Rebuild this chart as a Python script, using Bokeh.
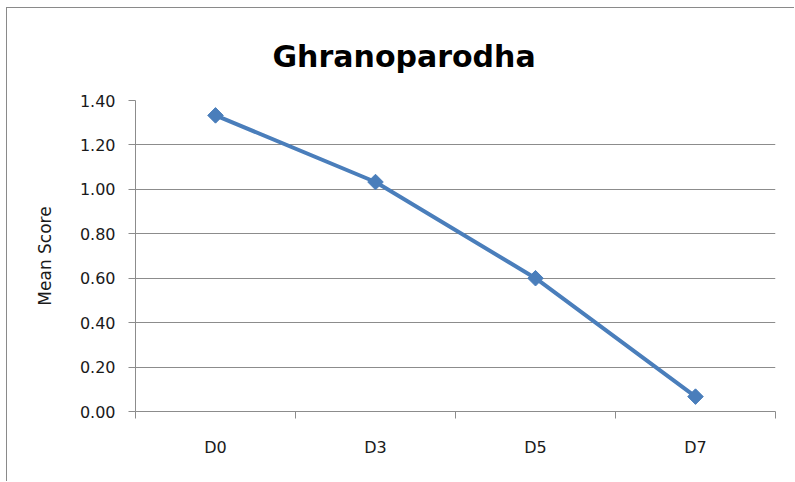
import math
from bokeh.plotting import figure
from bokeh.models import FixedTicker, NumeralTickFormatter, Range1d, Title
from bokeh.embed import file_html
from bokeh.resources import INLINE

categories = ["D0", "D3", "D5", "D7"]
mean_score = [1.333, 1.033, 0.600, 0.067]
y_ticks = [0.0, 0.2, 0.4, 0.6, 0.8, 1.0, 1.2, 1.4]
chart_title = "Ghranoparodha"

x_pos = [i + 0.5 for i in range(len(categories))]
boundaries = list(range(len(categories) + 1))

GRID = "#8c8c8c"
BLUE = "#4a7ebb"
FONT = "DejaVu Sans"

p = figure(width=788, height=474, output_backend="svg", toolbar_location=None,
           x_range=Range1d(0, len(categories)), y_range=Range1d(0, 1.4),
           min_border_left=128, min_border_right=20, min_border_top=92,
           min_border_bottom=71, title=None)
p.styles = {"margin-left": "6px", "margin-top": "7px",
            "border-left": "1px solid #8a8a8a", "border-top": "1px solid #8a8a8a"}
p.outline_line_color = None
p.background_fill_color = "white"
p.border_fill_color = "white"

t = Title(text=chart_title, align="left", offset=137,
          text_font=FONT, text_font_size="30px", text_font_style="bold",
          text_color="#000000", standoff=54)
p.add_layout(t, "above")

p.line(x_pos, mean_score, line_color=BLUE, line_width=4)
p.scatter(x_pos, mean_score, marker="square", angle=math.pi / 4, size=11,
          fill_color=BLUE, line_color=BLUE)

# x axis
p.xaxis.ticker = FixedTicker(ticks=x_pos, minor_ticks=boundaries)
p.xaxis.major_label_overrides = {x: c for x, c in zip(x_pos, categories)}
p.xaxis.major_tick_line_color = None
p.xaxis.major_tick_out = 0
p.xaxis.major_tick_in = 0
p.xaxis.minor_tick_line_color = GRID
p.xaxis.minor_tick_out = 7
p.xaxis.minor_tick_in = 0
p.xaxis.axis_line_color = GRID
p.xaxis.major_label_standoff = 19
p.xaxis.major_label_text_font = FONT
p.xaxis.major_label_text_font_size = "16px"
p.xaxis.major_label_text_color = "#1a1a1a"
p.xgrid.grid_line_color = None

# y axis
p.yaxis.ticker = FixedTicker(ticks=y_ticks)
p.yaxis.formatter = NumeralTickFormatter(format="0.00")
p.yaxis.minor_tick_line_color = None
p.yaxis.major_tick_line_color = GRID
p.yaxis.major_tick_out = 7
p.yaxis.major_tick_in = 0
p.yaxis.axis_line_color = GRID
p.yaxis.major_label_standoff = 13
p.yaxis.major_label_text_font = FONT
p.yaxis.major_label_text_font_size = "16px"
p.yaxis.major_label_text_color = "#1a1a1a"
p.yaxis.axis_label = "Mean Score"
p.yaxis.axis_label_text_font = FONT
p.yaxis.axis_label_text_font_size = "17px"
p.yaxis.axis_label_text_font_style = "normal"
p.yaxis.axis_label_text_color = "#1a1a1a"
p.yaxis.axis_label_standoff = 22
p.ygrid.grid_line_color = GRID
p.ygrid.grid_line_width = 1

open("out.html", "w").write(file_html(p, INLINE))
